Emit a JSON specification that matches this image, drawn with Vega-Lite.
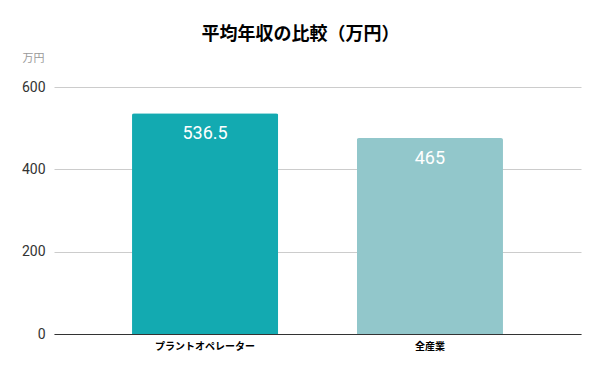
{
  "$schema": "https://vega.github.io/schema/vega-lite/v6.json",
  "autosize": "none",
  "width": 527,
  "height": 247,
  "padding": {"left": 54, "top": 87, "right": 19, "bottom": 37},
  "background": "white",
  "title": {
    "text": "平均年収の比較（万円）",
    "font": "Noto Sans CJK JP",
    "fontSize": 18,
    "fontWeight": "bold",
    "color": "#000000",
    "anchor": "middle",
    "dx": -17,
    "offset": 8
  },
  "data": {
    "values": [
      {"category": "プラントオペレーター", "value": 536.5, "label": "536.5"},
      {"category": "全産業", "value": 476, "label": "465"}
    ]
  },
  "encoding": {
    "x": {
      "field": "category",
      "type": "nominal",
      "sort": null,
      "scale": {"paddingInner": 0.35, "paddingOuter": 0.347},
      "axis": {
        "title": null,
        "labelAngle": 0,
        "labelFont": "Noto Sans CJK JP",
        "labelFontSize": 10,
        "labelFontWeight": "bold",
        "labelColor": "#000000",
        "labelPadding": 7,
        "ticks": false,
        "domainColor": "#333333",
        "domainWidth": 1.2
      }
    },
    "y": {
      "field": "value",
      "type": "quantitative",
      "scale": {"domain": [0, 600]},
      "axis": {
        "values": [0, 200, 400, 600],
        "title": "万円",
        "titleAngle": 0,
        "titleX": -32,
        "titleY": -29,
        "titleAlign": "left",
        "titleBaseline": "middle",
        "titleFont": "Noto Sans CJK JP",
        "titleFontSize": 11,
        "titleFontWeight": "normal",
        "titleColor": "#999999",
        "labelFont": "Roboto",
        "labelFontSize": 14,
        "labelColor": "#333333",
        "labelPadding": 9,
        "ticks": false,
        "domain": false,
        "gridColor": "#cccccc",
        "gridWidth": 1
      }
    }
  },
  "layer": [
    {
      "mark": {"type": "bar", "cornerRadiusTopLeft": 2, "cornerRadiusTopRight": 2},
      "encoding": {
        "color": {
          "field": "category",
          "type": "nominal",
          "sort": null,
          "scale": {"range": ["#13AAB1", "#92C7CB"]},
          "legend": null
        }
      }
    },
    {
      "mark": {
        "type": "text",
        "baseline": "middle",
        "dy": 21,
        "font": "Roboto",
        "fontSize": 18,
        "color": "#ffffff"
      },
      "encoding": {"text": {"field": "label"}}
    }
  ],
  "config": {"view": {"stroke": null}}
}
